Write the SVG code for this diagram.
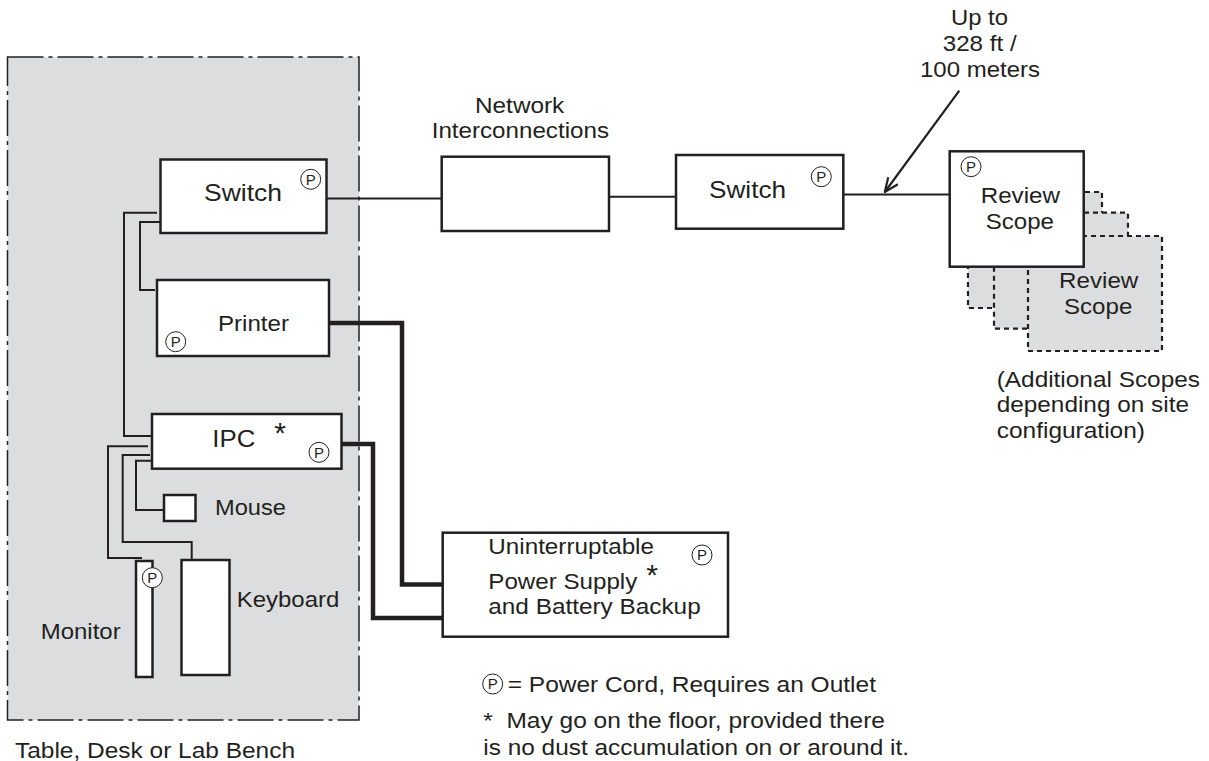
<svg xmlns="http://www.w3.org/2000/svg" width="1209" height="761" viewBox="0 0 1209 761">
<defs>
<style>
text{font-family:"Liberation Sans",Arial,sans-serif;fill:#231f20;font-size:21.5px}
.lg{font-size:24px}
.box{fill:#fff;stroke:#231f20;stroke-width:2.5}
.scope{fill:#dcddde;stroke:#231f20;stroke-width:2.2;stroke-dasharray:5 4}
.c{fill:none;stroke:#231f20;stroke-width:2}
.t{fill:none;stroke:#231f20;stroke-width:4.5}
.pc{fill:none;stroke:#231f20;stroke-width:1}
.pt{font-size:15px;text-anchor:middle}
.star{font-size:30px;text-anchor:middle}
</style>
<marker id="arr" viewBox="0 0 16 14" markerWidth="16" markerHeight="14" refX="15" refY="7" orient="auto" markerUnits="userSpaceOnUse"><path d="M1 1 L15 7 L1 13" fill="none" stroke="#231f20" stroke-width="2.2"/></marker>
</defs>
<rect id="bench" x="7.5" y="57" width="351.5" height="663" fill="#dcddde" stroke="#231f20" stroke-width="1.5" stroke-dasharray="36 5 4 5"/>
<text x="15" y="758" textLength="280" lengthAdjust="spacingAndGlyphs">Table, Desk or Lab Bench</text>
<g id="connectors">
<path class="c" d="M327 198.500H442"/>
<path class="c" d="M609 196.700H676"/>
<path class="c" d="M843 194.500H950"/>
<path class="c" d="M157 212.700H124V436H152"/>
<path class="c" d="M160 222H140V290H155"/>
<path class="c" d="M148 446.300H108V558H142"/>
<path class="c" d="M150 455H122.700V542H191.700V560"/>
<path class="c" d="M152 460.700H136V510H164"/>
<path class="t" d="M329 323H402V584.500H443"/>
<path class="t" d="M341 444H373V618H443"/>
<path d="M959.300 90.700L884.800 192" fill="none" stroke="#231f20" stroke-width="2.200" marker-end="url(#arr)"/>
</g>
<g id="switch1"><rect class="box" x="160.500" y="159.500" width="166" height="73.500"/><text class="lg" x="204" y="201" textLength="78" lengthAdjust="spacingAndGlyphs">Switch</text><circle class="pc" cx="310.700" cy="179.300" r="10"/><text class="pt" x="310.700" y="184.500">P</text></g>
<g id="printer"><rect class="box" x="157" y="280" width="172" height="76"/><text x="218" y="331" textLength="71" lengthAdjust="spacingAndGlyphs">Printer</text><circle class="pc" cx="175.700" cy="341.700" r="10"/><text class="pt" x="175.700" y="346.900">P</text></g>
<g id="ipc"><rect class="box" x="152" y="414" width="189.500" height="54.700"/><text class="lg" x="212.300" y="446.700" textLength="43" lengthAdjust="spacingAndGlyphs">IPC</text><text class="star" x="280" y="443">*</text><circle class="pc" cx="319" cy="452.300" r="10"/><text class="pt" x="319" y="457.500">P</text></g>
<g id="mouse"><rect class="box" x="164" y="495" width="31.500" height="26"/><text x="215" y="515" textLength="71" lengthAdjust="spacingAndGlyphs">Mouse</text></g>
<g id="keyboard"><rect class="box" x="181.500" y="560" width="48" height="115"/><text x="236.700" y="606.700" textLength="102.600" lengthAdjust="spacingAndGlyphs">Keyboard</text></g>
<g id="monitor"><rect class="box" x="136" y="561" width="16.500" height="116"/><circle cx="152.300" cy="577.700" r="10" fill="#fff" stroke="#231f20" stroke-width="1"/><text class="pt" x="152.300" y="582.900">P</text><text x="40.700" y="639.300" textLength="80" lengthAdjust="spacingAndGlyphs">Monitor</text></g>
<g id="network"><rect class="box" x="441.700" y="156.700" width="167.300" height="74.300"/><text x="475" y="112.700" textLength="89.300" lengthAdjust="spacingAndGlyphs">Network</text><text x="431.700" y="138.300" textLength="177.300" lengthAdjust="spacingAndGlyphs">Interconnections</text></g>
<g id="switch2"><rect class="box" x="676" y="155" width="167.300" height="73.700"/><text class="lg" x="709" y="197.700" textLength="77" lengthAdjust="spacingAndGlyphs">Switch</text><circle class="pc" cx="821.300" cy="176.700" r="10"/><text class="pt" x="821.300" y="181.900">P</text></g>
<g id="scope-extra"><rect class="scope" x="968" y="192" width="134" height="116"/><rect class="scope" x="994" y="212.700" width="134" height="116"/><rect class="scope" x="1028" y="236" width="134" height="115"/><text x="1059" y="288.300" textLength="79.300" lengthAdjust="spacingAndGlyphs">Review</text><text x="1064" y="314" textLength="68.300" lengthAdjust="spacingAndGlyphs">Scope</text></g>
<g id="scope-main"><rect class="box" x="949.700" y="151.300" width="134" height="115.400"/><text x="980.700" y="203.300" textLength="79.300" lengthAdjust="spacingAndGlyphs">Review</text><text x="985.700" y="229" textLength="68.300" lengthAdjust="spacingAndGlyphs">Scope</text><circle class="pc" cx="971" cy="166.700" r="10"/><text class="pt" x="971" y="171.900">P</text></g>
<g id="ups"><rect class="box" x="442.700" y="532.700" width="285.300" height="104"/><text x="488.300" y="554.300" textLength="165.700" lengthAdjust="spacingAndGlyphs">Uninterruptable</text><text x="488.300" y="589" textLength="149" lengthAdjust="spacingAndGlyphs">Power Supply</text><text class="star" x="652" y="585">*</text><text x="488.300" y="614.300" textLength="212.400" lengthAdjust="spacingAndGlyphs">and Battery Backup</text><circle class="pc" cx="702" cy="555" r="10"/><text class="pt" x="702" y="560.200">P</text></g>
<g id="notes">
<text x="951" y="25" textLength="57" lengthAdjust="spacingAndGlyphs">Up to</text>
<text x="942.700" y="51" textLength="74" lengthAdjust="spacingAndGlyphs">328 ft /</text>
<text x="920" y="76.700" textLength="120" lengthAdjust="spacingAndGlyphs">100 meters</text>
<text x="996.700" y="386.700" textLength="203.300" lengthAdjust="spacingAndGlyphs">(Additional Scopes</text>
<text x="996.700" y="412" textLength="192.300" lengthAdjust="spacingAndGlyphs">depending on site</text>
<text x="996.700" y="437.700" textLength="148.300" lengthAdjust="spacingAndGlyphs">configuration)</text>
<circle class="pc" cx="492.700" cy="684" r="10"/><text class="pt" x="492.700" y="689.200">P</text>
<text x="507.700" y="691.700" textLength="368.300" lengthAdjust="spacingAndGlyphs">= Power Cord, Requires an Outlet</text>
<text x="483.300" y="728.300" textLength="401.700" lengthAdjust="spacingAndGlyphs" xml:space="preserve">*  May go on the floor, provided there</text>
<text x="483.300" y="755" textLength="425.700" lengthAdjust="spacingAndGlyphs">is no dust accumulation on or around it.</text>
</g>
</svg>
